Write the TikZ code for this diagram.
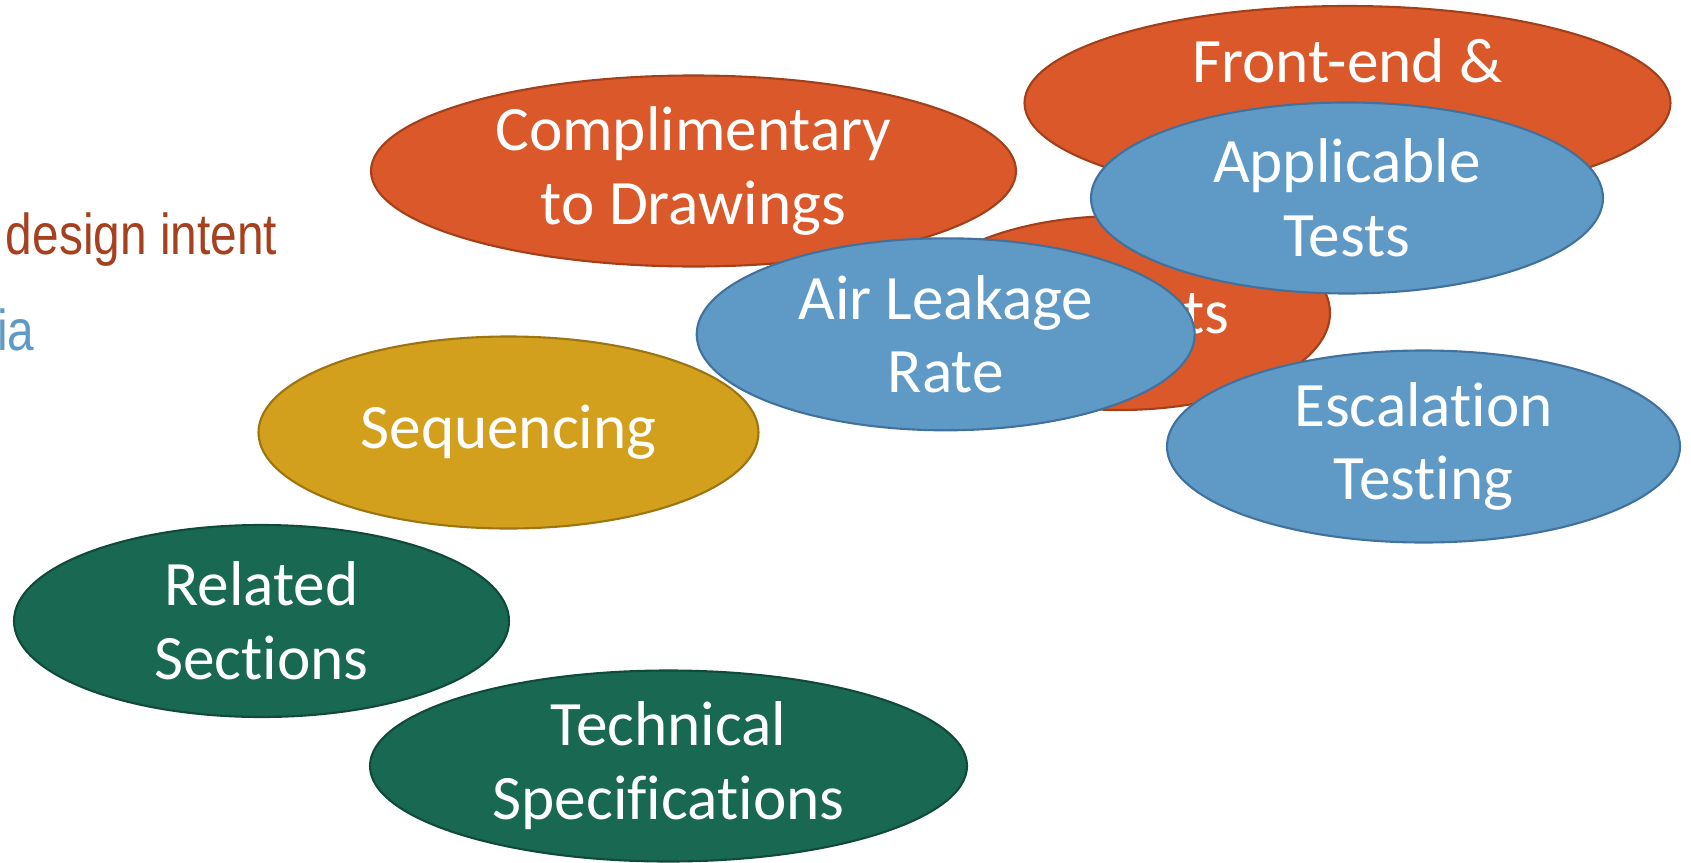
\documentclass[tikz,border=0pt]{standalone}
\usepackage{fontspec}
\usetikzlibrary{shapes.geometric}
\newfontfamily\bubblefont[RawFeature={-liga;-clig;-calt;-dlig}]{Carlito}
\newfontfamily\notefont[FakeStretch=0.83]{Liberation Sans}
\definecolor{orangefill}{HTML}{DA5829}
\definecolor{orangeline}{HTML}{A2401C}
\definecolor{bluefill}{HTML}{5F9AC6}
\definecolor{blueline}{HTML}{41719C}
\definecolor{goldfill}{HTML}{D2A01C}
\definecolor{goldline}{HTML}{9D7412}
\definecolor{greenfill}{HTML}{186852}
\definecolor{greenline}{HTML}{114A3B}
\definecolor{intenttext}{HTML}{A6411F}
\definecolor{criteriatext}{HTML}{5F9AC6}

\begin{document}
\begin{tikzpicture}[orange node/.style={ellipse, fill=orangefill, draw=orangeline, line width=0.6pt, text=white, font=\bubblefont\fontsize{18}{21}\selectfont, align=center, inner sep=-4pt}, blue node/.style={orange node, fill=bluefill, draw=blueline}, gold node/.style={orange node, fill=goldfill, draw=goldline}, green node/.style={orange node, fill=greenfill, draw=greenline}, note text/.style={font=\notefont\fontsize{16.4}{19}\selectfont, inner sep=0pt}]
\useasboundingbox (0,0) rectangle (16.91,8.62);

% left notes
\node[note text, text=intenttext, anchor=base east] (t0) at (2.78,6.08) {design intent};
\node[note text, text=criteriatext, anchor=base east] (t1) at (0.35,5.12) {ia};

% orange
\node[orange node, minimum width=6.45cm, minimum height=1.91cm] (n0) at (6.935,6.91) {Complimentary\\to Drawings};

% orange
\node[orange node, minimum width=6.46cm, minimum height=1.94cm] (n1) at (13.475,7.59) {Front-end \&\\\vphantom{g}};

% orange (hidden)
\node[orange node, minimum width=4.20cm, minimum height=1.94cm] (n2) at (11.20,5.49) {};
\node[font=\bubblefont\fontsize{18}{21}\selectfont, text=white, inner sep=0pt, anchor=base east] (t2) at (12.30,5.29) {ts};

% blue
\node[blue node, minimum width=4.98cm, minimum height=1.92cm] (n3) at (9.457,5.277) {Air Leakage\\Rate};

% blue
\node[blue node, minimum width=5.12cm, minimum height=1.91cm] (n4) at (13.47,6.64) {Applicable\\Tests};

% blue
\node[blue node, minimum width=5.13cm, minimum height=1.92cm] (n5) at (14.235,4.155) {Escalat\kern0pt ion\\Test\kern0pt ing};

% gold
\node[gold node, minimum width=5.00cm, minimum height=1.92cm] (n6) at (5.085,4.295) {Sequencing};

% green
\node[green node, minimum width=4.95cm, minimum height=1.92cm] (n7) at (2.615,2.41) {Related\\Sections};

% green
\node[green node, minimum width=5.97cm, minimum height=1.91cm] (n8) at (6.685,0.96) {Technical\\Specif\kern0pt icat\kern0pt ions};

\end{tikzpicture}
\end{document}
